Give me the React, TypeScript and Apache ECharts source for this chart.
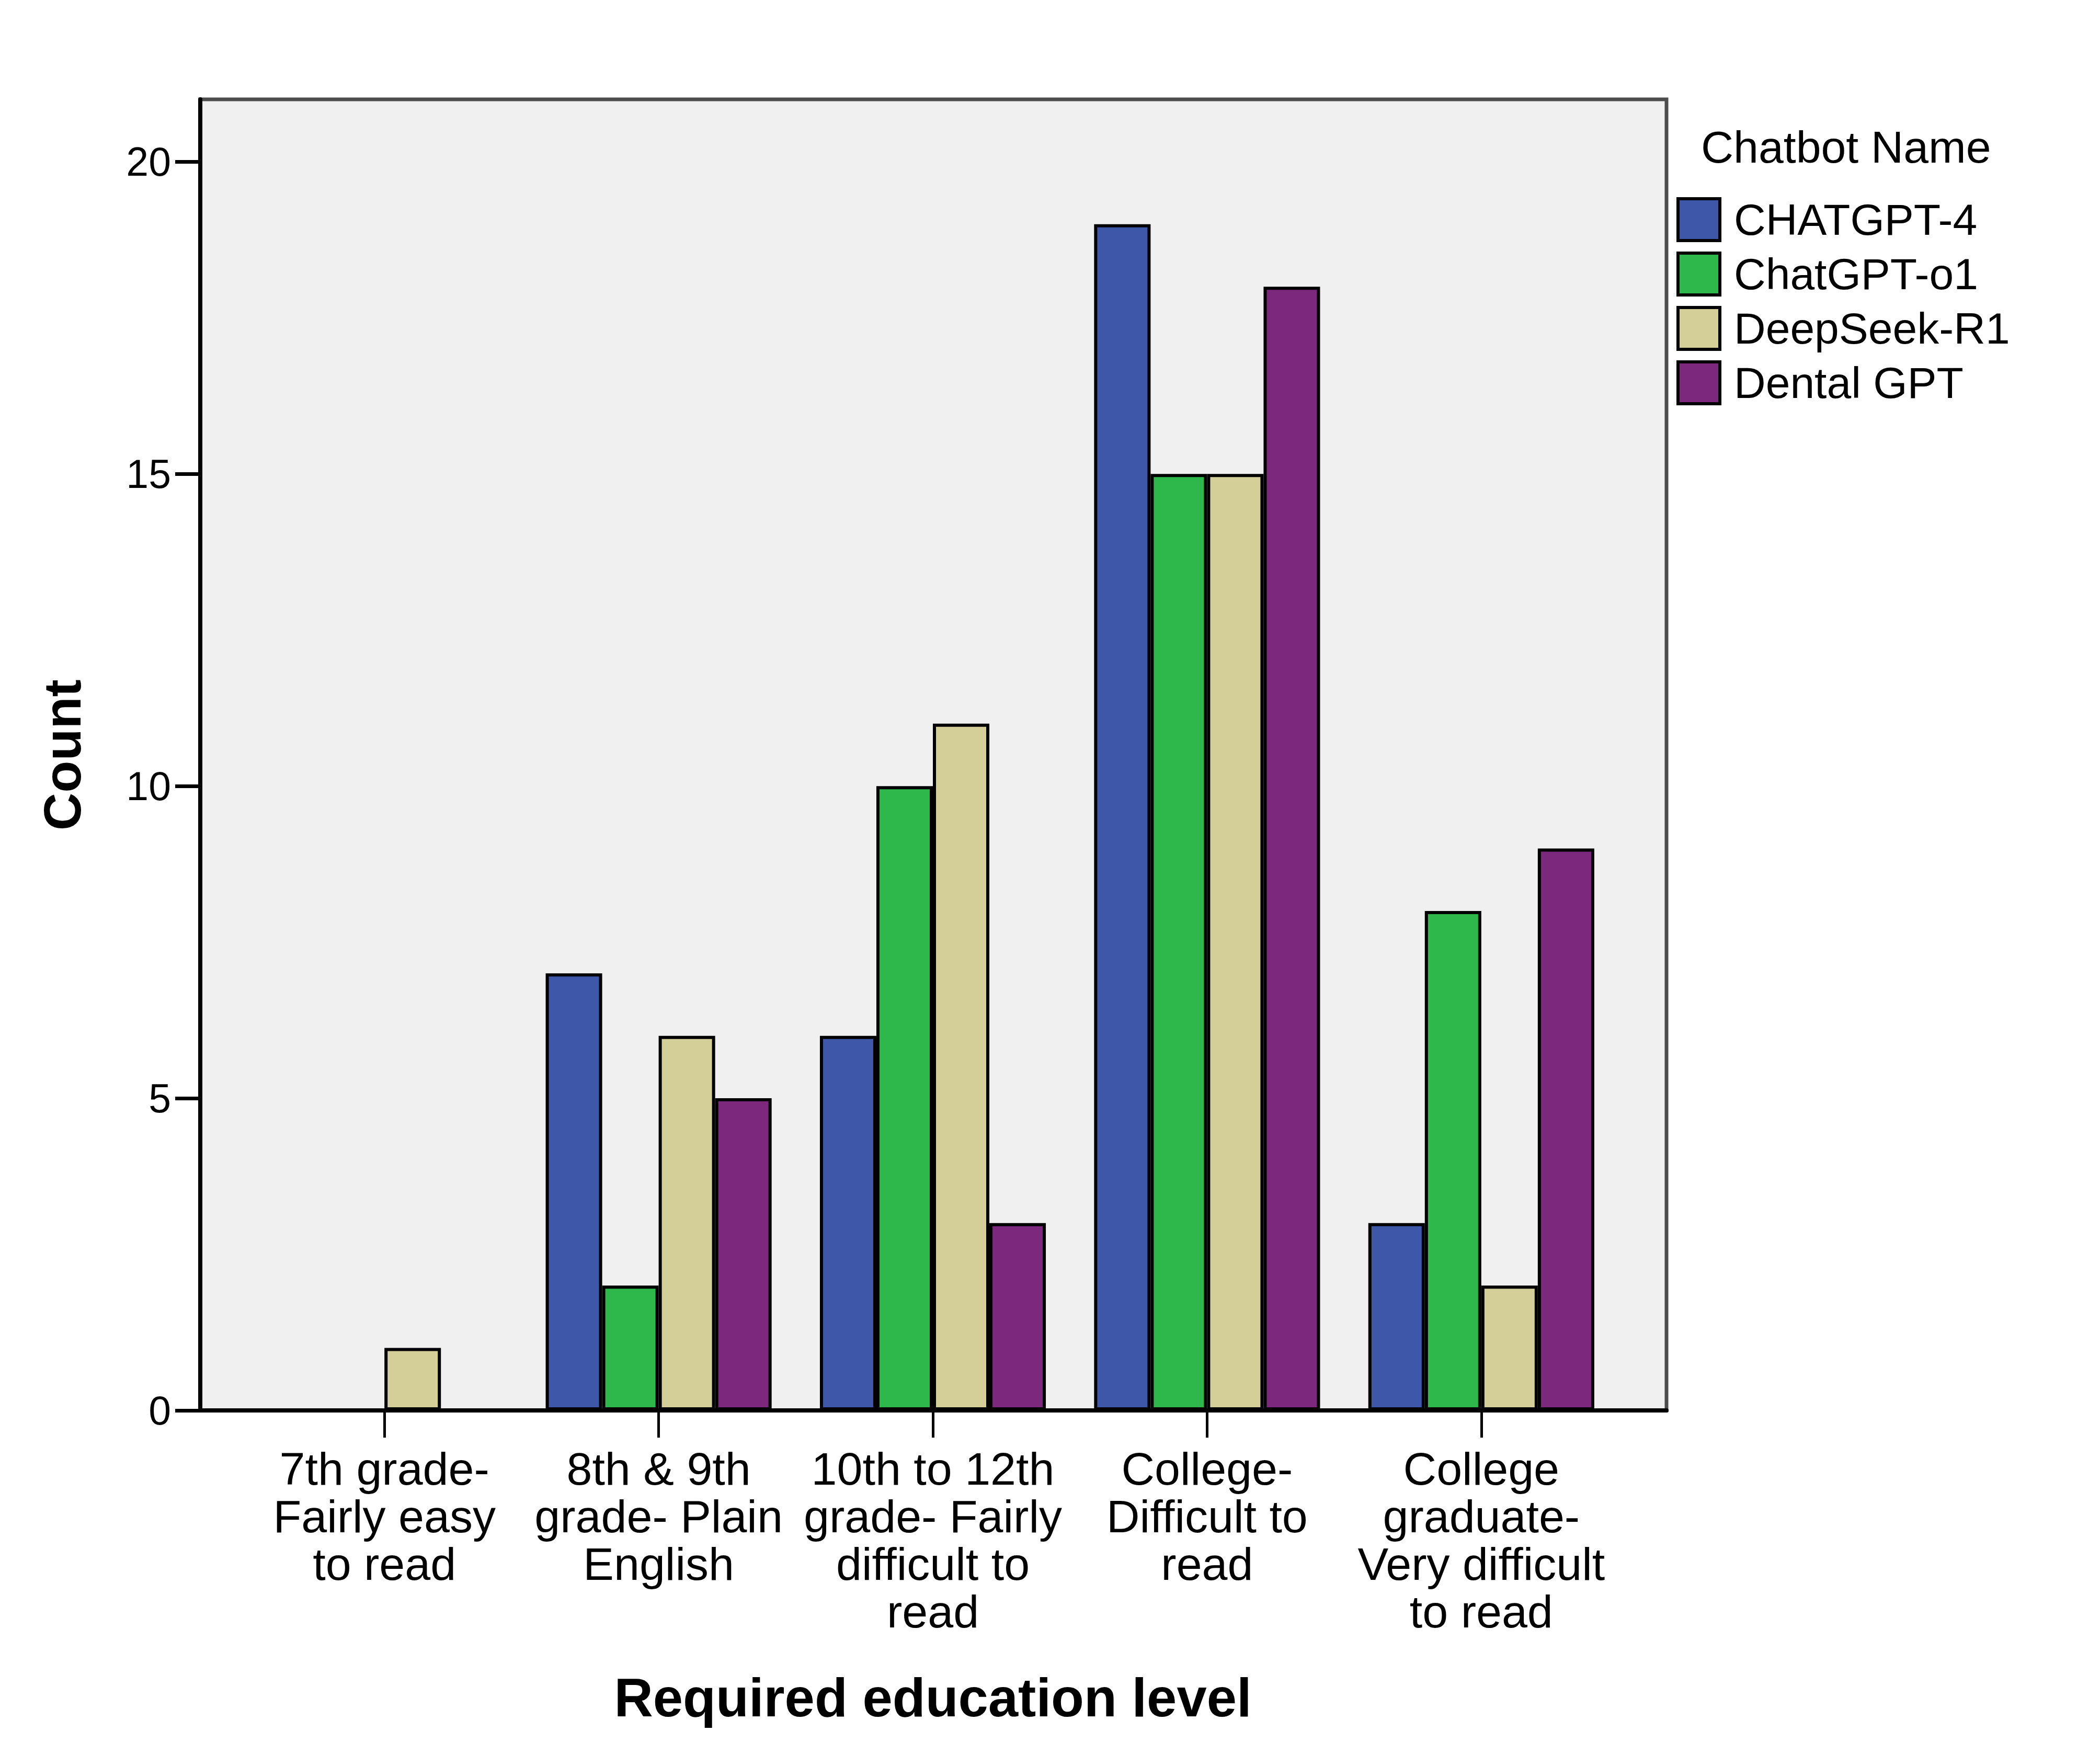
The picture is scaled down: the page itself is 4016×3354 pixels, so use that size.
import { useEffect, useRef } from "react";
import * as echarts from "echarts";

// tick labels on the category axis (wrapped the way the source wraps them)
const categories = [
  "7th grade-\nFairly easy\nto read",
  "8th & 9th\ngrade- Plain\nEnglish",
  "10th to 12th\ngrade- Fairly\ndifficult to\nread",
  "College-\nDifficult to\nread",
  "College\ngraduate-\nVery difficult\nto read",
];

const seriesNames = ["CHATGPT-4", "ChatGPT-o1", "DeepSeek-R1", "Dental GPT"];

const chatgpt4 = [0, 7, 6, 19, 3];
const chatgptO1 = [0, 2, 10, 15, 8];
const deepseekR1 = [1, 6, 11, 15, 2];
const dentalGpt = [0, 5, 3, 18, 9];

const yTicks = [0, 5, 10, 15, 20];
const yMax = 21;

const colors = ["#3f57a8", "#2eb84c", "#d4cf99", "#7b287d"];

const FONT = "'Liberation Sans', Arial, sans-serif";

const App = () => {
  const chartRef = useRef<HTMLDivElement>(null);

  useEffect(() => {
    document.body.style.margin = "0";
    if (!chartRef.current) return;
    const chart = echarts.init(chartRef.current, undefined, { renderer: "svg" });

    const values = [chatgpt4, chatgptO1, deepseekR1, dentalGpt];

    const options = {
      animation: false,
      backgroundColor: "#ffffff",
      textStyle: { fontFamily: FONT },
      title: {
        text: "Chatbot Name",
        left: 3248,
        top: 226,
        textStyle: {
          fontFamily: FONT,
          fontSize: 86,
          fontWeight: "normal",
          color: "#000",
          lineHeight: 100,
        },
      },
      legend: {
        orient: "vertical",
        left: 3201,
        top: 372,
        itemWidth: 80,
        itemHeight: 80,
        itemGap: 18,
        icon: "rect",
        data: seriesNames,
        itemStyle: { borderColor: "#000", borderWidth: 6 },
        textStyle: {
          fontFamily: FONT,
          fontSize: 84,
          color: "#000",
          lineHeight: 80,
          padding: [0, 0, 0, 22],
        },
      },
      grid: [
        // data grid, inset so the category bands sit inside the frame
        { left: 473, top: 190, width: 2622, height: 2507, containLabel: false },
        // frame grid
        {
          left: 383,
          top: 190,
          width: 2804,
          height: 2507,
          show: true,
          backgroundColor: "#f0f0f0",
          borderColor: "#4d4d4d",
          borderWidth: 7,
          z: -1,
        },
      ],
      xAxis: [
        {
          type: "category",
          gridIndex: 0,
          data: categories,
          axisLine: { show: false },
          axisTick: {
            show: true,
            alignWithLabel: true,
            length: 52,
            lineStyle: { color: "#000", width: 5 },
          },
          axisLabel: {
            interval: 0,
            margin: 66,
            fontFamily: FONT,
            fontSize: 88,
            lineHeight: 91,
            color: "#000",
          },
          name: "Required education level",
          nameLocation: "middle",
          nameGap: 498,
          nameTextStyle: {
            fontFamily: FONT,
            fontSize: 103,
            fontWeight: "bold",
            color: "#000",
          },
        },
        {
          type: "value",
          gridIndex: 1,
          min: 0,
          max: 1,
          axisLine: { show: true, onZero: false, lineStyle: { color: "#000", width: 8 } },
          axisTick: { show: false },
          axisLabel: { show: false },
          splitLine: { show: false },
        },
      ],
      yAxis: [
        {
          type: "value",
          gridIndex: 0,
          min: 0,
          max: yMax,
          show: false,
          splitLine: { show: false },
        },
        {
          type: "value",
          gridIndex: 1,
          min: 0,
          max: yMax,
          axisLine: { show: true, lineStyle: { color: "#000", width: 8 } },
          axisTick: {
            show: true,
            length: 48,
            customValues: yTicks,
            lineStyle: { color: "#000", width: 7 },
          },
          axisLabel: {
            customValues: yTicks,
            margin: 56,
            fontFamily: FONT,
            fontSize: 77,
            color: "#000",
          },
          splitLine: { show: false },
          name: "Count",
          nameLocation: "middle",
          nameGap: 214,
          nameTextStyle: {
            fontFamily: FONT,
            fontSize: 100,
            fontWeight: "bold",
            color: "#000",
          },
        },
      ],
      series: seriesNames.map((name, i) => ({
        name,
        type: "bar",
        xAxisIndex: 0,
        yAxisIndex: 0,
        data: values[i],
        barGap: "0%",
        barCategoryGap: "17.6%",
        itemStyle: {
          color: colors[i],
          borderColor: "#000",
          borderWidth: 6,
        },
      })),
    };

    chart.setOption(options);

    return () => {
      chart.dispose();
    };
  }, []);

  return <div ref={chartRef} style={{ width: "4016px", height: "3354px" }} />;
};

export default App;
